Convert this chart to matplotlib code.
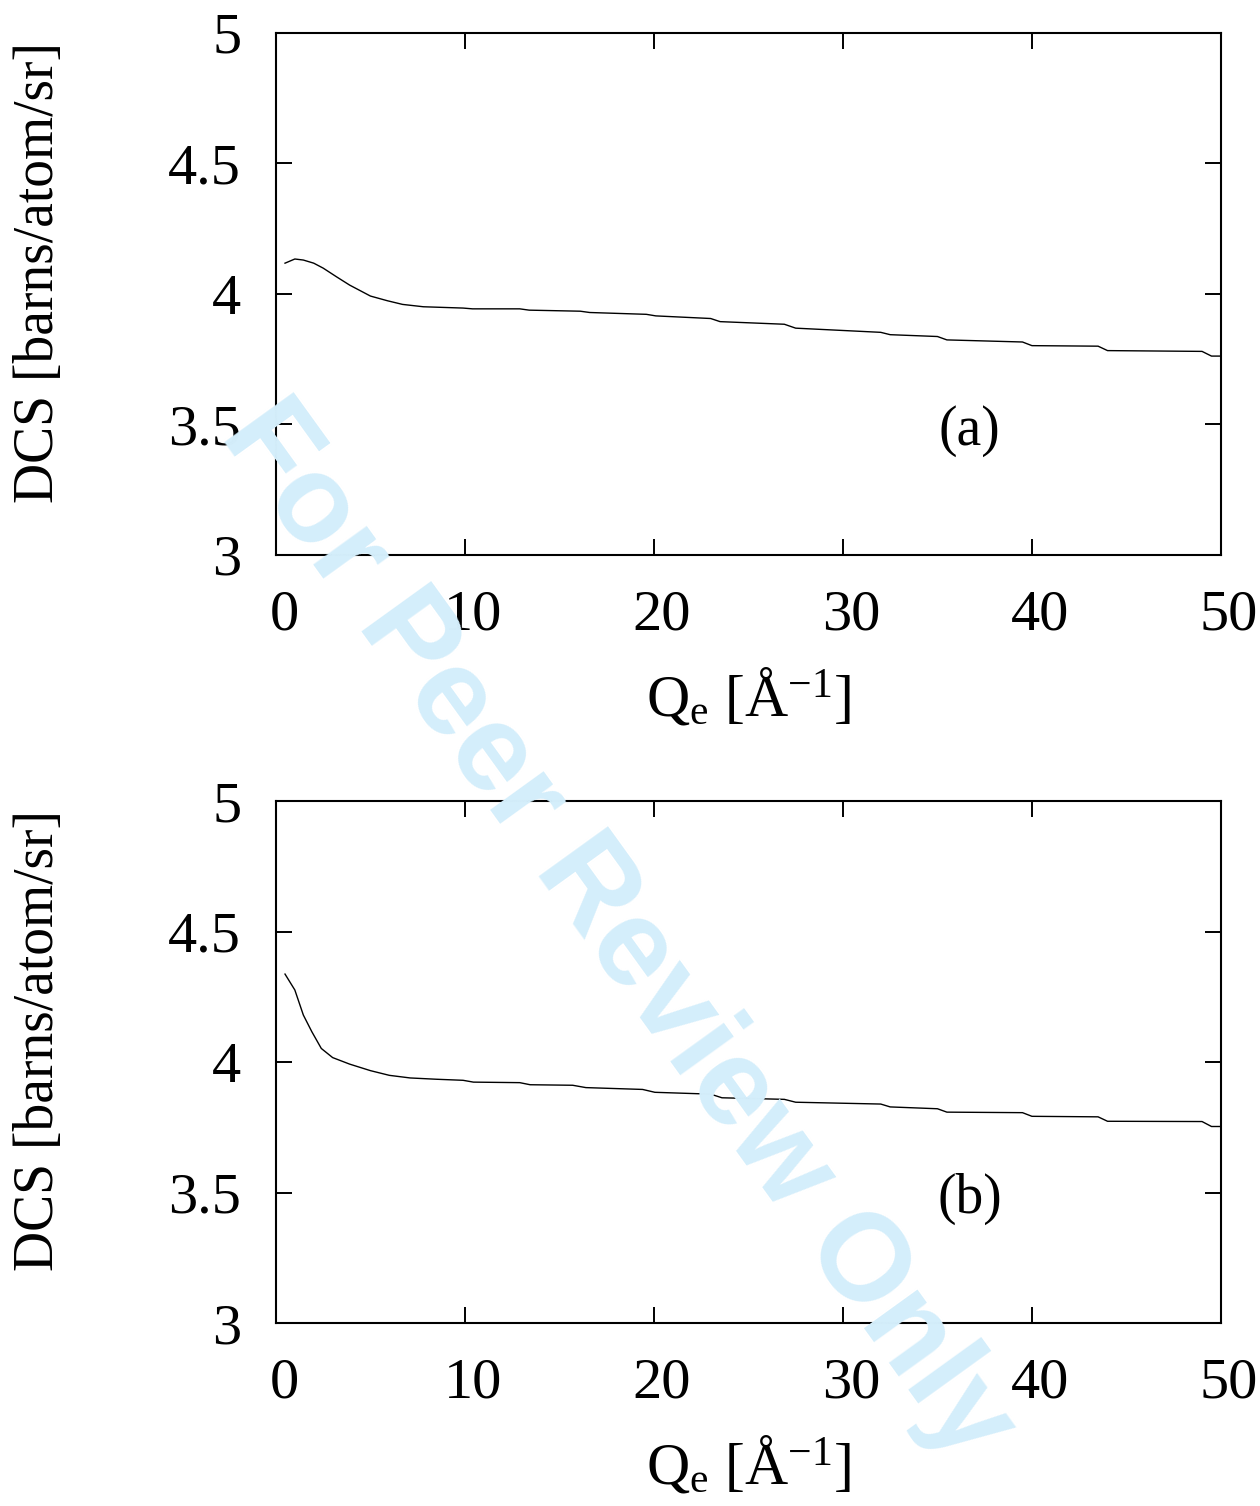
"""DCS vs Q_e, two stacked panels."""

import matplotlib
matplotlib.use("Agg")
import matplotlib.pyplot as plt
import matplotlib.transforms as mtransforms

plt.rcParams["font.family"] = ["Liberation Serif", "DejaVu Serif"]
plt.rcParams["mathtext.fontset"] = "custom"
plt.rcParams["mathtext.rm"] = "Liberation Serif"
plt.rcParams["mathtext.it"] = "Liberation Serif:italic"

# panel (a)
q_a = [0.48, 1.0, 1.45, 2.0, 2.5, 3.2, 3.9, 5.0, 5.9, 6.7, 7.8, 9.9, 10.4, 12.9, 13.4,
       16.1, 16.6, 19.6, 20.1, 23.0, 23.5, 26.9, 27.5, 32.0, 32.5, 35.0, 35.5, 39.5,
       40.0, 43.5, 44.0, 49.0, 49.5, 50.0]
dcs_a = [4.118, 4.134, 4.130, 4.118, 4.099, 4.066, 4.034, 3.992, 3.974, 3.960, 3.951,
         3.946, 3.943, 3.943, 3.938, 3.934, 3.929, 3.922, 3.916, 3.906, 3.894, 3.884,
         3.869, 3.853, 3.844, 3.837, 3.824, 3.816, 3.802, 3.800, 3.783, 3.780, 3.762, 3.762]

# panel (b)
q_b = [0.48, 1.0, 1.45, 1.9, 2.4, 3.0, 3.9, 5.0, 6.0, 7.1, 8.5, 9.9, 10.45, 12.9, 13.45,
       15.7, 16.4, 19.4, 20.05, 23.0, 23.6, 26.9, 27.5, 32.0, 32.5, 35.0, 35.5, 39.5,
       40.0, 43.5, 44.0, 49.0, 49.5, 50.0]
dcs_b = [4.337, 4.276, 4.180, 4.116, 4.052, 4.017, 3.992, 3.967, 3.949, 3.939, 3.934,
         3.930, 3.923, 3.921, 3.913, 3.911, 3.902, 3.895, 3.884, 3.877, 3.863, 3.857,
         3.846, 3.839, 3.828, 3.821, 3.808, 3.806, 3.792, 3.790, 3.773, 3.772, 3.753, 3.753]

x_ticks = [0, 10, 20, 30, 40, 50]
y_ticks = [3, 3.5, 4, 4.5, 5]
y_ticklabels = ["3", "3.5", "4", "4.5", "5"]

fig = plt.figure(figsize=(12.6, 15.06), dpi=100)
ax_a = fig.add_axes([0.219, 0.6315, 0.750, 0.3466])
ax_b = fig.add_axes([0.219, 0.1215, 0.750, 0.3466])

for ax, q, dcs, tag in [(ax_a, q_a, dcs_a, "(a)"), (ax_b, q_b, dcs_b, "(b)")]:
    ax.plot(q, dcs, color="black", lw=1.0)
    ax.set_xlim(0, 50)
    ax.set_ylim(3, 5)
    ax.set_xticks(x_ticks)
    ax.set_xticklabels([str(t) for t in x_ticks])
    ax.set_yticks(y_ticks)
    ax.set_yticklabels(y_ticklabels)
    ax.tick_params(direction="in", length=11.5, width=1.4, labelsize=42,
                   top=True, right=True, pad=25)
    for s in ax.spines.values():
        s.set_linewidth(1.5)
    ax.set_ylabel("DCS [barns/atom/sr]", fontsize=40)
    ax.yaxis.set_label_coords(-0.223, 0.542)
    ax.set_xlabel(r"Q$_\mathrm{e}$ [Å$^{\mathrm{-1}}$]", fontsize=43, labelpad=18)
    ax.text(0.734, 0.237, tag, transform=ax.transAxes, fontsize=40,
            ha="center", va="center")
    offset = mtransforms.ScaledTranslation(8 / 100, 0, fig.dpi_scale_trans)
    for tick in ax.xaxis.get_major_ticks():
        tick.label1.set_transform(tick.label1.get_transform() + offset)

# watermark
fig.text(617 / 1260, 1 - 932 / 1506, "For Peer Review Only", fontsize=89,
         fontweight="bold", family=["Liberation Sans", "DejaVu Sans"],
         color="#d4eefb", rotation=-54.2, rotation_mode="anchor",
         ha="center", va="center", zorder=10)

fig.savefig("out.png", dpi=100)
